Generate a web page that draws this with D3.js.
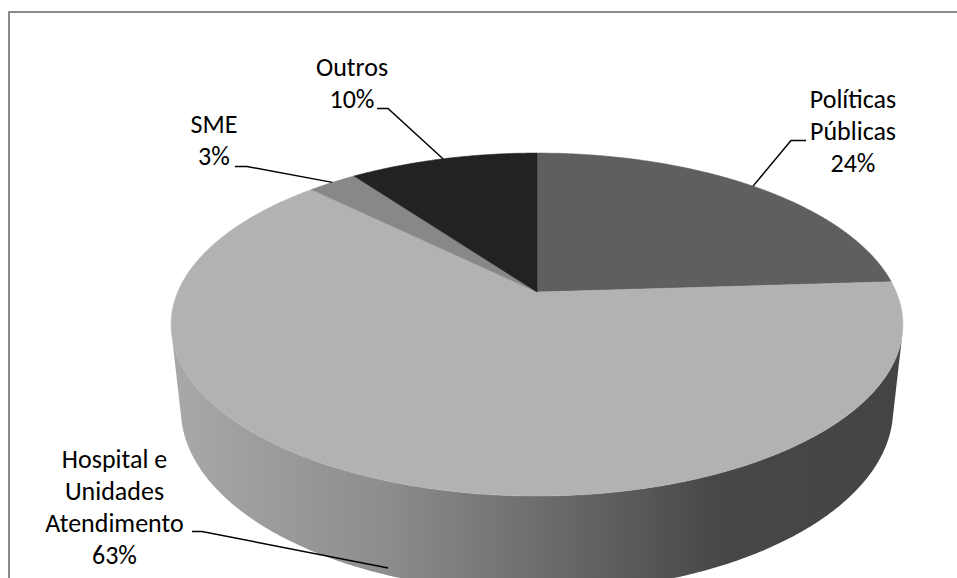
<!DOCTYPE html>
<html><head><meta charset="utf-8">
<script src="https://cdn.jsdelivr.net/npm/d3@7"></script>
<style>body{margin:0;background:#fff} svg{display:block}</style>
</head><body><svg id="chart" width="957" height="578"></svg>
<script>
// ---- data ----
const categories = ["Políticas Públicas", "Hospital e Unidades Atendimento", "SME", "Outros"];
const values = [24, 63.4, 2.6, 10];
const labelLines = [["Políticas", "Públicas"], ["Hospital e", "Unidades", "Atendimento"], ["SME"], ["Outros"]];
const colors = ["#5f5f5f", "#b2b2b2", "#888888", "#222222"];

// ---- layout ----
const W = 957, H = 578;
const cx = 537, cy = 292;
const tilt = 27.4 * Math.PI / 180, D = 4.682, F = 1682, depth = 0.269;
const fontSize = 26, lineH = 32;
// label placement: center x, first baseline, leader start, leader knee, height fraction of anchor
const labelLayout = [
  {x: 853, y: 108, p0: [806, 140.5], p1: [791, 140.5], h: 0},
  {x: 114.5, y: 468, p0: [192, 531.5], p1: [202, 531.5], h: -0.92},
  {x: 214, y: 133, p0: [235, 166.5], p1: [247, 166.5], h: 0},
  {x: 352, y: 76, p0: [377, 108.5], p1: [388, 108.5], h: 0}
];

const svg = d3.select("#chart");

function project(a, y) {
  const x = Math.sin(a), z = -Math.cos(a);
  const yc = y * Math.cos(tilt) - z * Math.sin(tilt);
  const dc = D - (z * Math.cos(tilt) + y * Math.sin(tilt));
  return [cx + F * x / dc, cy - F * yc / dc];
}
function arcPts(a0, a1, y) {
  const n = Math.max(2, Math.ceil(Math.abs(a1 - a0) / (0.4 * Math.PI / 180)));
  return d3.range(n + 1).map(i => project(a0 + (a1 - a0) * i / n, y));
}

const total = d3.sum(values);
const arcs = d3.pie().sort(null).value(d => d)(values);
const line = d3.line();

// frame
svg.append("rect").attr("x", 9).attr("y", 12).attr("width", 980).attr("height", 620)
  .attr("fill", "none").attr("stroke", "#8a8a8a").attr("stroke-width", 2);

// side gradient
const defs = svg.append("defs");
const grad = defs.append("linearGradient").attr("id", "sideGrad")
  .attr("gradientUnits", "userSpaceOnUse")
  .attr("x1", 170).attr("y1", 0).attr("x2", 903).attr("y2", 0);
[[0, "#a9a9a9"], [0.3, "#8c8c8c"], [0.55, "#666666"], [0.75, "#474747"], [1, "#444444"]]
  .forEach(([o, c]) => grad.append("stop").attr("offset", o).attr("stop-color", c));

// visible side range
const aVis = Math.acos(-1 / (D * Math.cos(tilt)));
arcs.forEach((d, i) => {
  const a0 = Math.max(d.startAngle, aVis), a1 = Math.min(d.endAngle, 2 * Math.PI - aVis);
  if (a0 >= a1) return;
  const pts = arcPts(a0, a1, 0).concat(arcPts(a1, a0, -depth));
  svg.append("path").attr("d", line(pts) + "Z").attr("fill", "url(#sideGrad)");
});

// top faces
arcs.forEach((d, i) => {
  const pts = [[cx, cy]].concat(arcPts(d.startAngle, d.endAngle, 0));
  svg.append("path").attr("d", line(pts) + "Z").attr("fill", colors[i])
    .attr("stroke", colors[i]).attr("stroke-width", 0.5);
});

// labels + leaders
arcs.forEach((d, i) => {
  const L = labelLayout[i];
  const mid = (d.startAngle + d.endAngle) / 2;
  const end = project(mid, L.h * depth);
  svg.append("path").attr("d", line([L.p0, L.p1, end]))
    .attr("fill", "none").attr("stroke", "#000").attr("stroke-width", 1.5);
  const lines = labelLines[i].concat([Math.round(d.data / total * 100) + "%"]);
  const t = svg.append("text").attr("font-family", "Carlito, Calibri, Lato, sans-serif")
    .attr("font-size", fontSize).attr("fill", "#000").attr("text-anchor", "middle");
  lines.forEach((s, j) => t.append("tspan").attr("x", L.x).attr("y", L.y + j * lineH).text(s));
});
</script>
</body></html>
